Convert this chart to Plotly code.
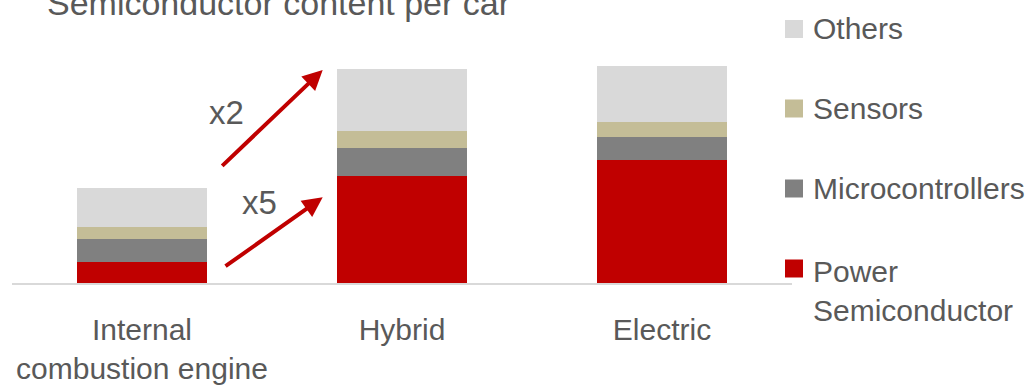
import plotly.graph_objects as go

# Vehicle categories and semiconductor content by component type (relative units)
categories = ["Internal<br>combustion engine", "Hybrid", "Electric"]
power_semiconductor = [21, 107, 123]
microcontrollers = [23, 28, 23]
sensors = [12, 17, 15]
others = [39, 62, 56]

series_names = ["Power<br>Semiconductor", "Microcontrollers", "Sensors", "Others"]
series_values = [power_semiconductor, microcontrollers, sensors, others]
series_colors = ["#C00000", "#808080", "#C4BD97", "#D9D9D9"]

TEXT_COLOR = "#595959"
FONT = "Liberation Sans, Arial, sans-serif"

W, H = 1030, 390
PLOT_L, PLOT_R, PLOT_T, PLOT_B = 12, 792, 33, 283


def px_x(px):
    return (px - PLOT_L) / (PLOT_R - PLOT_L)


def px_y(py):
    return (PLOT_B - py) / (PLOT_B - PLOT_T)


fig = go.Figure()
for name, vals, color in zip(series_names, series_values, series_colors):
    fig.add_trace(go.Bar(
        x=categories, y=vals, name=name,
        marker=dict(color=color, line=dict(width=0)),
        showlegend=False,
    ))

annotations = []
shapes = []

# Title, partly above the top edge
annotations.append(dict(
    text="Semiconductor content per car", xref="paper", yref="paper",
    x=px_x(45), y=px_y(3), xanchor="left", yanchor="middle", showarrow=False,
    font=dict(family=FONT, size=34, color=TEXT_COLOR),
))

# Custom legend: square swatches with labels
legend_rows = [("Others", "#D9D9D9", 29, 29),
               ("Sensors", "#C4BD97", 108.5, 108.5),
               ("Microcontrollers", "#808080", 188.5, 188.5),
               ("Power<br>Semiconductor", "#C00000", 268.5, 291)]
for label, color, cy, ty in legend_rows:
    shapes.append(dict(
        type="rect", xref="paper", yref="paper",
        x0=px_x(785), x1=px_x(803), y0=px_y(cy - 9), y1=px_y(cy + 9),
        fillcolor=color, line=dict(width=0),
    ))
    annotations.append(dict(
        text=label, xref="paper", yref="paper", x=px_x(811), y=px_y(ty),
        xanchor="left", yanchor="middle", align="left", showarrow=False,
        font=dict(family=FONT, size=30, color=TEXT_COLOR),
    ))

# Growth arrows
for tip, tail in [((322.7, 70), (220.7, 167.3)), ((322.7, 197.3), (224, 267.3))]:
    annotations.append(dict(
        text="", xref="paper", yref="paper", x=px_x(tip[0]), y=px_y(tip[1]),
        ax=tail[0] - tip[0], ay=tail[1] - tip[1], axref="pixel", ayref="pixel",
        showarrow=True, arrowhead=2, arrowsize=1, arrowwidth=4,
        arrowcolor="#C00000", standoff=0, startstandoff=0,
    ))
for label, cx, cy in [("x2", 226.5, 112.5), ("x5", 259.5, 203)]:
    annotations.append(dict(
        text=label, xref="paper", yref="paper", x=px_x(cx), y=px_y(cy),
        xanchor="center", yanchor="middle", showarrow=False,
        font=dict(family=FONT, size=33, color=TEXT_COLOR),
    ))

fig.update_layout(
    width=W, height=H,
    margin=dict(l=PLOT_L, r=W - PLOT_R, t=PLOT_T, b=H - PLOT_B, pad=0),
    barmode="stack", bargap=0.5,
    plot_bgcolor="white", paper_bgcolor="white",
    showlegend=False,
    annotations=annotations, shapes=shapes,
    xaxis=dict(
        showline=True, linecolor="#D9D9D9", linewidth=2,
        showgrid=False, ticks="", zeroline=False, automargin=False,
        tickfont=dict(family=FONT, size=30, color=TEXT_COLOR),
        ticklabelstandoff=19,
    ),
    yaxis=dict(range=[0, 250], visible=False, showgrid=False,
               zeroline=False, automargin=False),
)

fig.write_html("out.html")
